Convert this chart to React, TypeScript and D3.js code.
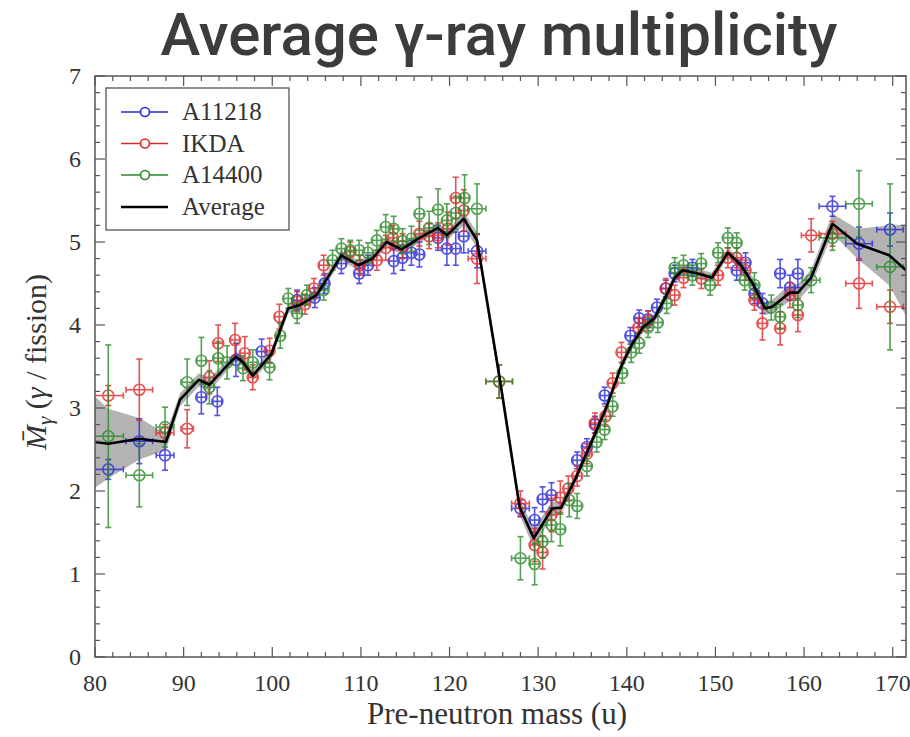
import React from "react";
import * as d3 from "d3";

// [mass, value, yErr, xErr]
const blueData: [number, number, number, number][] = [
  [81.5, 2.26, 0.12, 1.7], [85, 2.6, 0.27, 1.5], [87.9, 2.43, 0.18, 1], [92, 3.13, 0.2, 0.5],
  [93.8, 3.08, 0.17, 0.5], [95.9, 3.58, 0.2, 0.5], [98.8, 3.68, 0.15, 0.5], [102.8, 4.3, 0.12, 0.5],
  [104.8, 4.33, 0.12, 0.5], [105.9, 4.5, 0.12, 0.5], [107.8, 4.74, 0.12, 0.5], [109.8, 4.62, 0.12, 0.5],
  [110.8, 4.72, 0.12, 0.5], [113.7, 4.77, 0.15, 0.5], [114.7, 4.81, 0.15, 0.5], [115.7, 4.87, 0.15, 0.5],
  [116.6, 4.85, 0.15, 0.5], [118.7, 5.05, 0.15, 0.5], [119.7, 4.92, 0.2, 0.5], [120.7, 4.92, 0.2, 0.5],
  [121.6, 5.07, 0.2, 0.5], [123.1, 4.89, 0.2, 1], [128, 1.79, 0.1, 1], [129.6, 1.65, 0.15, 0.5],
  [130.5, 1.9, 0.15, 0.5], [131.5, 1.95, 0.15, 0.5], [134.4, 2.37, 0.1, 0.5], [135.5, 2.53, 0.1, 0.5],
  [136.4, 2.8, 0.1, 0.5], [137.5, 3.15, 0.1, 0.5], [140.4, 3.87, 0.1, 0.5], [141.4, 4.08, 0.1, 0.5],
  [142.4, 4.07, 0.1, 0.5], [143.4, 4.21, 0.1, 0.5], [144.4, 4.44, 0.1, 0.5], [145.4, 4.62, 0.1, 0.5],
  [147.4, 4.69, 0.1, 0.5], [152.4, 4.66, 0.12, 0.5], [153.4, 4.75, 0.12, 0.5], [154.4, 4.38, 0.12, 0.5],
  [155.3, 4.26, 0.12, 0.5], [157.3, 4.62, 0.17, 0.5], [158.4, 4.45, 0.15, 0.5], [159.3, 4.62, 0.17, 0.5],
  [163.2, 5.43, 0.12, 1.5], [166.2, 4.98, 0.2, 1.5], [169.7, 5.15, 0.2, 1.5],
];

const redData: [number, number, number, number][] = [
  [81.5, 3.15, 0.12, 1.7], [85, 3.22, 0.37, 1.5], [87.9, 2.7, 0.1, 1], [90.4, 2.75, 0.23, 0.7],
  [92.9, 3.37, 0.2, 0.5], [93.9, 3.78, 0.22, 0.5], [95.8, 3.82, 0.2, 0.5], [96.9, 3.66, 0.2, 0.5],
  [97.8, 3.37, 0.15, 0.5], [99.7, 3.69, 0.15, 0.5], [100.8, 4.1, 0.15, 0.5], [102.8, 4.28, 0.12, 0.5],
  [103.7, 4.25, 0.12, 0.5], [104.7, 4.44, 0.12, 0.5], [105.8, 4.72, 0.12, 0.5], [108.8, 4.88, 0.12, 0.5],
  [109.9, 4.72, 0.12, 0.5], [111.8, 4.78, 0.12, 0.5], [112.8, 4.93, 0.15, 0.5], [113.6, 5.05, 0.15, 0.5],
  [114.7, 4.95, 0.15, 0.5], [116.6, 5.1, 0.15, 0.5], [117.7, 5.07, 0.15, 0.5], [118.7, 5.08, 0.15, 0.5],
  [119.8, 5.16, 0.2, 0.5], [120.7, 5.53, 0.25, 0.5], [121.6, 5.38, 0.25, 0.5], [123.1, 4.8, 0.3, 1],
  [125.6, 3.32, 0.2, 1.5], [128, 1.85, 0.15, 1], [129.6, 1.35, 0.2, 0.5], [130.5, 1.26, 0.2, 0.5],
  [131.5, 1.71, 0.2, 0.5], [132.5, 1.92, 0.2, 0.5], [133.4, 2.03, 0.15, 0.5], [134.4, 2.18, 0.12, 0.5],
  [135.5, 2.45, 0.12, 0.5], [136.4, 2.82, 0.12, 0.5], [137.6, 2.9, 0.12, 0.5], [138.4, 3.3, 0.12, 0.5],
  [139.4, 3.67, 0.12, 0.5], [141.3, 3.97, 0.12, 0.5], [142.4, 4.05, 0.12, 0.5], [144.4, 4.44, 0.12, 0.5],
  [145.4, 4.36, 0.12, 0.5], [146.4, 4.57, 0.12, 0.5], [148.4, 4.56, 0.12, 0.5], [150.3, 4.6, 0.12, 0.5],
  [151.4, 4.81, 0.12, 0.5], [152.4, 4.81, 0.12, 0.5], [153.4, 4.66, 0.12, 0.5], [154.4, 4.3, 0.12, 0.5],
  [155.3, 4.02, 0.2, 0.5], [157.3, 3.96, 0.2, 0.5], [158.4, 4.36, 0.15, 0.5], [159.3, 4.12, 0.2, 0.5],
  [160.8, 5.08, 0.2, 1.1], [163.2, 5.1, 0.15, 1.5], [166.2, 4.5, 0.3, 1.5], [169.7, 4.22, 0.2, 1.5],
];

const greenData: [number, number, number, number][] = [
  [81.5, 2.66, 1.1, 1.7], [85, 2.19, 0.38, 1.5], [87.9, 2.77, 0.24, 1], [90.4, 3.31, 0.28, 0.7],
  [92, 3.57, 0.28, 0.5], [92.9, 3.25, 0.2, 0.5], [93.9, 3.6, 0.2, 0.5], [94.9, 3.55, 0.2, 0.5],
  [96.7, 3.48, 0.15, 0.5], [97.8, 3.55, 0.15, 0.5], [99.7, 3.49, 0.15, 0.5], [100.9, 3.87, 0.15, 0.5],
  [101.8, 4.32, 0.12, 0.5], [102.8, 4.14, 0.12, 0.5], [103.9, 4.36, 0.12, 0.5], [105.8, 4.42, 0.12, 0.5],
  [106.8, 4.78, 0.12, 0.5], [107.8, 4.92, 0.12, 0.5], [108.8, 4.9, 0.12, 0.5], [109.8, 4.9, 0.12, 0.5],
  [110.8, 4.87, 0.12, 0.5], [111.8, 5.02, 0.12, 0.5], [112.8, 5.18, 0.15, 0.5], [113.7, 5.16, 0.15, 0.5],
  [114.7, 5.01, 0.15, 0.5], [115.7, 5.04, 0.15, 0.5], [116.6, 5.34, 0.2, 0.5], [117.7, 5.17, 0.2, 0.5],
  [118.7, 5.39, 0.25, 0.5], [119.7, 5.26, 0.2, 0.5], [120.7, 5.35, 0.2, 0.5], [121.7, 5.53, 0.28, 0.5],
  [123.1, 5.4, 0.3, 1], [125.6, 3.32, 0.2, 1.5], [128, 1.19, 0.26, 1], [129.6, 1.12, 0.25, 0.5],
  [130.5, 1.39, 0.2, 0.5], [131.5, 1.59, 0.2, 0.5], [132.5, 1.54, 0.2, 0.5], [133.5, 1.89, 0.2, 0.5],
  [134.4, 1.82, 0.15, 0.5], [135.5, 2.3, 0.12, 0.5], [136.6, 2.59, 0.12, 0.5], [137.5, 2.74, 0.12, 0.5],
  [138.4, 3.02, 0.12, 0.5], [139.5, 3.42, 0.12, 0.5], [140.5, 3.67, 0.12, 0.5], [141.4, 3.78, 0.12, 0.5],
  [142.4, 3.97, 0.12, 0.5], [143.5, 4.03, 0.12, 0.5], [144.5, 4.26, 0.12, 0.5], [145.4, 4.69, 0.12, 0.5],
  [146.4, 4.72, 0.12, 0.5], [147.4, 4.6, 0.12, 0.5], [148.4, 4.74, 0.12, 0.5], [149.4, 4.48, 0.12, 0.5],
  [150.3, 4.87, 0.12, 0.5], [151.4, 5.05, 0.12, 0.5], [152.4, 4.99, 0.12, 0.5], [153.3, 4.54, 0.12, 0.5],
  [154.4, 4.48, 0.15, 0.5], [156.3, 4.21, 0.15, 0.5], [157.3, 4.1, 0.15, 0.5], [159.3, 4.24, 0.15, 0.5],
  [160.8, 4.54, 0.15, 1], [163.2, 5.05, 0.15, 1.5], [166.2, 5.46, 0.4, 1.5], [169.7, 4.7, 1.0, 1.5],
];

// [mass, value, band half-width]
const averageData: [number, number, number][] = [
  [80, 2.59, 0.55], [81.5, 2.57, 0.42], [85, 2.63, 0.25], [88, 2.59, 0.1], [89.6, 3.1, 0.08],
  [91.7, 3.34, 0.08], [92.9, 3.28, 0.08], [94.9, 3.51, 0.06], [95.9, 3.62, 0.06], [96.7, 3.55, 0.06],
  [97.8, 3.39, 0.06], [99.9, 3.65, 0.06], [101.8, 4.2, 0.06], [103.1, 4.24, 0.06], [105, 4.36, 0.06],
  [106.3, 4.58, 0.06], [107.8, 4.84, 0.06], [109.7, 4.72, 0.06], [111.3, 4.8, 0.06], [112.9, 5.0, 0.06],
  [114.6, 4.91, 0.06], [116.6, 5.05, 0.06], [118.7, 5.17, 0.06], [119.7, 5.08, 0.06], [121.6, 5.28, 0.08],
  [123.1, 5.02, 0.1], [125.7, 3.33, 0.1], [127.9, 1.81, 0.1], [129.5, 1.43, 0.12], [131.6, 1.79, 0.08],
  [132.6, 1.8, 0.08], [134.3, 2.17, 0.06], [136.1, 2.61, 0.06], [137.7, 3.01, 0.06], [139.4, 3.51, 0.06],
  [140.5, 3.75, 0.06], [141.8, 3.97, 0.06], [143.1, 4.08, 0.06], [144.3, 4.32, 0.06], [145.4, 4.57, 0.06],
  [146.3, 4.66, 0.06], [148, 4.62, 0.06], [149.6, 4.57, 0.06], [151.4, 4.87, 0.06], [152.9, 4.72, 0.06],
  [154.2, 4.5, 0.08], [155.6, 4.2, 0.08], [156.4, 4.22, 0.08], [158.4, 4.39, 0.1], [159.3, 4.39, 0.1],
  [160.8, 4.57, 0.1], [163.2, 5.22, 0.12], [166, 4.98, 0.18], [169.6, 4.84, 0.36], [171.5, 4.66, 0.55],
];

const xTicks = [80, 90, 100, 110, 120, 130, 140, 150, 160, 170];
const yTicks = [0, 1, 2, 3, 4, 5, 6, 7];

const seriesList = [
  { name: "A11218", color: "#2828d8", data: blueData },
  { name: "IKDA", color: "#e02828", data: redData },
  { name: "A14400", color: "#2a8a2a", data: greenData },
];

const W = 910, H = 737;
const L = 95, R = 906, T = 76, B = 657;
const serif = "'Liberation Serif', 'DejaVu Serif', serif";

export default function App() {
  const x = d3.scaleLinear().domain([80, 171.5]).range([L, R]);
  const y = d3.scaleLinear().domain([0, 7]).range([B, T]);

  const xMinor = d3.range(80, 172, 2);
  const yMinor = d3.range(0, 7.001, 0.2);

  const line = d3.line<[number, number, number]>().x(d => x(d[0])).y(d => y(d[1]));
  const area = d3.area<[number, number, number]>()
    .x(d => x(d[0])).y0(d => y(d[1] - d[2])).y1(d => y(d[1] + d[2]));

  const cap = 3;
  const renderPoint = (d: [number, number, number, number], color: string, key: string) => {
    const cx = x(d[0]), cy = y(d[1]);
    const y0 = y(d[1] - d[2]), y1 = y(d[1] + d[2]);
    const x0 = x(d[0] - d[3]), x1 = x(d[0] + d[3]);
    return (
      <g key={key} stroke={color} strokeWidth={1.6} fill="none">
        <line x1={cx} x2={cx} y1={y0} y2={y1} />
        <line x1={cx - cap} x2={cx + cap} y1={y0} y2={y0} />
        <line x1={cx - cap} x2={cx + cap} y1={y1} y2={y1} />
        <line x1={x0} x2={x1} y1={cy} y2={cy} />
        <line x1={x0} x2={x0} y1={cy - cap} y2={cy + cap} />
        <line x1={x1} x2={x1} y1={cy - cap} y2={cy + cap} />
        <circle cx={cx} cy={cy} r={5.5} />
      </g>
    );
  };

  return (
    <svg width={W} height={H} style={{ position: "absolute", left: 0, top: 0, background: "#fff" }}>
      <text x={499} y={55} textAnchor="middle" fontFamily="Roboto, 'Open Sans', sans-serif"
        fontSize={60} fontWeight={500} fill="#3c3c3c">Average γ-ray multiplicity</text>

      <defs>
        <clipPath id="plotClip"><rect x={L} y={T} width={R - L} height={B - T} /></clipPath>
      </defs>

      <g clipPath="url(#plotClip)">
        <path d={area(averageData) ?? ""} fill="#9a9a9a" opacity={0.75} />
        {seriesList.map(s => (
          <g key={s.name} opacity={0.8}>
            {s.data.map((d, i) => renderPoint(d, s.color, s.name + i))}
          </g>
        ))}
        <path d={line(averageData) ?? ""} fill="none" stroke="#000" strokeWidth={2.6} strokeLinejoin="round" />
      </g>

      {/* frame */}
      <rect x={L} y={T} width={R - L} height={B - T} fill="none" stroke="#555" strokeWidth={1.5} />
      {/* ticks */}
      <g stroke="#555" strokeWidth={1.2}>
        {xMinor.map(v => {
          const major = v % 10 === 0;
          const len = major ? 10 : 5;
          return (
            <g key={"xt" + v}>
              <line x1={x(v)} x2={x(v)} y1={B} y2={B - len} />
              <line x1={x(v)} x2={x(v)} y1={T} y2={T + len} />
            </g>
          );
        })}
        {yMinor.map((v, i) => {
          const major = i % 5 === 0;
          const len = major ? 10 : 5;
          return (
            <g key={"yt" + i}>
              <line x1={L} x2={L + len} y1={y(v)} y2={y(v)} />
              <line x1={R} x2={R - len} y1={y(v)} y2={y(v)} />
            </g>
          );
        })}
      </g>

      {/* tick labels */}
      <g fontFamily={serif} fontSize={24} fill="#333">
        {xTicks.map(v => (
          <text key={"xl" + v} x={x(v)} y={B + 34} textAnchor="middle">{v}</text>
        ))}
        {yTicks.map(v => (
          <text key={"yl" + v} x={L - 14} y={y(v) + 8} textAnchor="end">{v}</text>
        ))}
      </g>

      {/* axis titles */}
      <text x={497} y={724} textAnchor="middle" fontFamily={serif} fontSize={31} fill="#333">
        Pre-neutron mass (u)
      </text>
      <text transform={`translate(46, 362) rotate(-90)`} textAnchor="middle" fontFamily={serif}
        fontSize={30} fill="#333">
        <tspan fontStyle="italic">M̄</tspan>
        <tspan fontStyle="italic" fontSize={21} dy={6}>γ</tspan>
        <tspan dy={-6}> (</tspan>
        <tspan fontStyle="italic">γ</tspan>
        <tspan> / fission)</tspan>
      </text>

      {/* legend */}
      <g>
        <rect x={106} y={88} width={183} height={142} fill="#fff" stroke="#555" strokeWidth={1.3} />
        {seriesList.map((s, i) => {
          const ly = 112 + i * 31.5;
          return (
            <g key={"lg" + s.name}>
              <line x1={121} x2={168} y1={ly} y2={ly} stroke={s.color} strokeWidth={1.6} />
              <circle cx={145} cy={ly} r={4.5} fill="#fff" stroke={s.color} strokeWidth={1.6} />
              <text x={182} y={ly + 8} fontFamily={serif} fontSize={25} fill="#333">{s.name}</text>
            </g>
          );
        })}
        <line x1={121} x2={168} y1={207} y2={207} stroke="#000" strokeWidth={2.6} />
        <text x={182} y={215} fontFamily={serif} fontSize={25} fill="#333">Average</text>
      </g>
    </svg>
  );
}
